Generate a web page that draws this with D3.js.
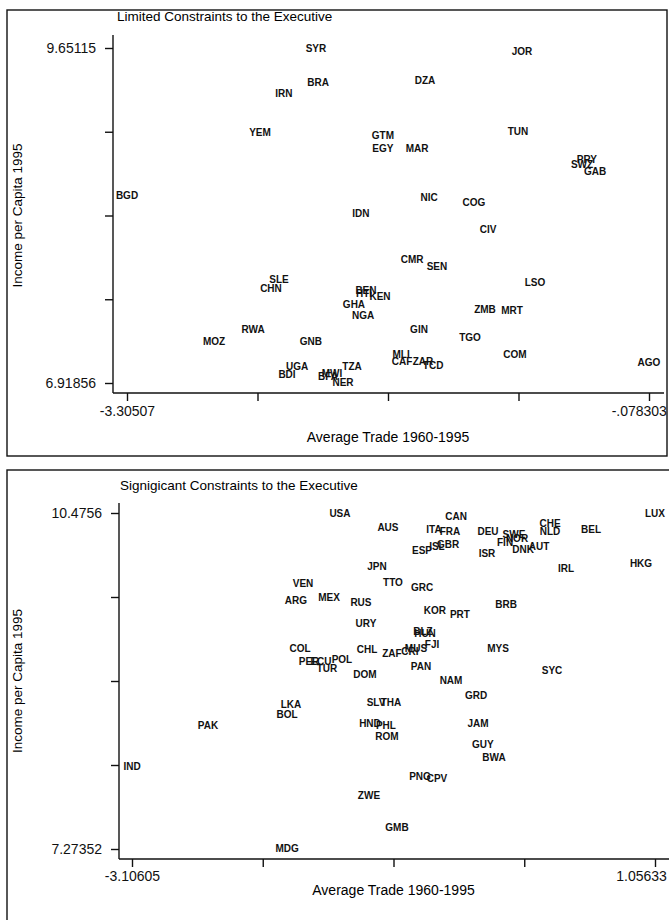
<!DOCTYPE html>
<html lang="en">
<head>
<meta charset="utf-8">
<title>Trade and Income by Constraints on the Executive</title>
<script src="https://cdnjs.cloudflare.com/ajax/libs/d3/7.8.5/d3.min.js"></script>
<style>
  body { margin: 0; background: #fff; }
  svg { display: block; font-family: "Liberation Sans", Arial, sans-serif; }
  .cty { font-size: 10px; font-weight: bold; }
  .tick-lab { font-size: 14px; }
  .ax-title { font-size: 14px; }
</style>
</head>
<body>
<svg id="chart" width="669" height="920"></svg>
<script>
// ---- panel 1: limited constraints ----
var limitedCodes = ["SYR","JOR","BRA","DZA","IRN","YEM","GTM","TUN","EGY","MAR","PRY","SWZ","GAB","BGD","NIC","COG","IDN","CIV","CMR","SEN","LSO","SLE","CHN","BEN","HTI","KEN","GHA","NGA","ZMB","MRT","RWA","GIN","MOZ","GNB","TGO","COM","AGO","UGA","TZA","MLI","CAF","ZAR","TCD","BDI","MWI","BFA","NER"];
var limitedTrade = [-2.137,-0.863,-2.124,-1.463,-2.335,-2.483,-1.723,-0.888,-1.723,-1.512,-0.462,-0.492,-0.412,-3.305,-1.438,-1.160,-1.859,-1.073,-1.543,-1.389,-0.783,-2.365,-2.415,-1.828,-1.840,-1.741,-1.902,-1.846,-1.092,-0.925,-2.526,-1.500,-2.767,-2.168,-1.185,-0.907,-0.0783,-2.254,-1.914,-1.611,-1.605,-1.475,-1.413,-2.316,-2.038,-2.063,-1.970];
var limitedIncome = [9.651,9.619,9.366,9.390,9.284,8.958,8.941,8.966,8.835,8.835,8.738,8.697,8.640,8.452,8.428,8.387,8.305,8.167,7.930,7.865,7.742,7.759,7.693,7.677,7.645,7.628,7.555,7.473,7.522,7.514,7.351,7.351,7.261,7.261,7.286,7.155,7.082,7.057,7.057,7.147,7.098,7.090,7.065,6.984,7.000,6.968,6.925];
var limitedXRange = [-3.30507, -0.078303];
var limitedYRange = [6.91856, 9.65115];
var limitedXLabels = ["-3.30507", "-.078303"];
var limitedYLabels = ["6.91856", "9.65115"];

// ---- panel 2: significant constraints ----
var signifCodes = ["LUX","USA","CAN","CHE","AUS","BEL","ITA","FRA","DEU","NLD","SWE","NOR","FIN","GBR","ISL","AUT","DNK","ESP","ISR","HKG","JPN","IRL","TTO","VEN","GRC","MEX","ARG","RUS","BRB","KOR","PRT","URY","BLZ","HUN","FJI","COL","CHL","MUS","MYS","CRI","ZAF","POL","ECU","PER","TUR","PAN","SYC","DOM","NAM","GRD","SLV","THA","LKA","BOL","PAK","HND","JAM","PHL","ROM","GUY","BWA","IND","PNG","CPV","ZWE","GMB","MDG"];
var signifTrade = [1.05633,-1.451,-0.527,0.221,-1.069,0.547,-0.703,-0.575,-0.273,0.221,-0.066,-0.042,-0.137,-0.591,-0.679,0.133,0.006,-0.798,-0.281,0.945,-1.156,0.348,-1.029,-1.745,-0.798,-1.538,-1.801,-1.284,-0.129,-0.695,-0.496,-1.244,-0.790,-0.774,-0.718,-1.769,-1.236,-0.846,-0.193,-0.894,-1.037,-1.435,-1.602,-1.697,-1.554,-0.806,0.237,-1.252,-0.567,-0.368,-1.164,-1.045,-1.841,-1.872,-2.501,-1.212,-0.352,-1.085,-1.077,-0.313,-0.225,-3.10605,-0.814,-0.679,-1.220,-0.997,-1.872];
var signifIncome = [10.4756,10.470,10.438,10.380,10.342,10.323,10.314,10.295,10.295,10.295,10.275,10.228,10.190,10.171,10.161,10.152,10.123,10.114,10.085,9.999,9.961,9.951,9.809,9.799,9.761,9.666,9.637,9.627,9.599,9.542,9.513,9.427,9.351,9.332,9.218,9.180,9.170,9.189,9.189,9.160,9.132,9.075,9.065,9.056,8.998,9.008,8.970,8.941,8.875,8.732,8.665,8.665,8.655,8.551,8.455,8.474,8.474,8.446,8.341,8.265,8.141,8.055,7.960,7.941,7.779,7.483,7.280];
var signifXRange = [-3.10605, 1.05633];
var signifYRange = [7.27352, 10.4756];
var signifXLabels = ["-3.10605", "1.05633"];
var signifYLabels = ["7.27352", "10.4756"];

var svg = d3.select("#chart");

function panel(p) {
  var g = svg.append("g");

  // outer frame
  g.append("rect")
    .attr("x", p.frame[0]).attr("y", p.frame[1])
    .attr("width", p.frame[2]).attr("height", p.frame[3])
    .style("fill", "none").style("stroke", "#111").style("stroke-width", 1.4);

  g.append("text")
    .attr("x", p.titleX).attr("y", p.titleY)
    .attr("class", "ax-title")
    .style("font-size", "13.5px")
    .text(p.title);

  var x = d3.scaleLinear().domain(p.xDomain).range(p.xRange);
  var y = d3.scaleLinear().domain(p.yDomain).range(p.yRange);

  // five evenly spaced ticks, only ends labelled
  var xt = d3.range(5).map(i => p.xDomain[0] + i * (p.xDomain[1] - p.xDomain[0]) / 4);
  var yt = d3.range(5).map(i => p.yDomain[0] + i * (p.yDomain[1] - p.yDomain[0]) / 4);

  var xAxis = d3.axisBottom(x).tickValues(xt).tickSize(8)
    .tickFormat((d, i) => i == 0 ? p.xLabels[0] : (i == 4 ? p.xLabels[1] : ""));
  var yAxis = d3.axisLeft(y).tickValues(yt).tickSize(8)
    .tickFormat((d, i) => i == 0 ? p.yLabels[0] : (i == 4 ? p.yLabels[1] : ""));

  var gx = g.append("g").attr("transform", "translate(0," + p.axisY + ")").call(xAxis);
  gx.select(".domain").attr("d", "M" + p.axisX + ",0H" + p.xEnd);
  gx.selectAll("text").attr("class", "tick-lab").attr("dy", 0).attr("y", p.xLabOff)
    .style("font-family", "Liberation Sans, Arial, sans-serif").style("font-size", "14px").style("fill", "#111");

  var gy = g.append("g").attr("transform", "translate(" + p.axisX + ",0)").call(yAxis);
  gy.select(".domain").attr("d", "M0," + p.yTop + "V" + p.axisY);
  gy.selectAll("text").attr("x", -17).attr("dy", "0.35em")
    .style("font-family", "Liberation Sans, Arial, sans-serif").style("font-size", "14px").style("fill", "#111");

  [gx, gy].forEach(a => {
    a.selectAll("line, path").style("stroke", "#111").style("stroke-width", 1.4);
  });

  // keep right-most tick label inside the page
  gx.selectAll("text").each(function() {
    var b = this.getBBox();
    var t = d3.select(this.parentNode).attr("transform");
    var tx = +t.match(/translate\(([-\d.]+)/)[1];
    if (tx + b.x + b.width > 667) d3.select(this).attr("x", 667 - tx - b.width / 2);
  });

  g.append("text")
    .attr("class", "ax-title")
    .attr("x", (p.xRange[0] + p.xRange[1]) / 2).attr("y", p.xTitleY)
    .attr("text-anchor", "middle")
    .text("Average Trade 1960-1995");

  g.append("text")
    .attr("class", "ax-title")
    .attr("transform", "translate(22," + ((p.yRange[0] + p.yRange[1]) / 2) + ") rotate(-90)")
    .attr("text-anchor", "middle")
    .style("font-size", "13.5px")
    .text("Income per Capita 1995");

  // country labels in place of markers
  g.selectAll("text.cty")
    .data(p.codes)
    .enter()
    .append("text")
    .attr("class", "cty")
    .attr("x", (d, i) => x(p.xs[i]))
    .attr("y", (d, i) => y(p.ys[i]))
    .attr("dy", "0.35em")
    .attr("text-anchor", "middle")
    .style("fill", "#111")
    .text(d => d);
}

panel({
  frame: [7, 10, 660, 446],
  title: "Limited Constraints to the Executive", titleX: 117, titleY: 21,
  xDomain: limitedXRange, yDomain: limitedYRange,
  xRange: [127, 649], yRange: [383, 48],
  axisX: 113, axisY: 393, xEnd: 664, yTop: 35,
  xLabOff: 23, xTitleY: 442,
  xLabels: limitedXLabels, yLabels: limitedYLabels,
  codes: limitedCodes, xs: limitedTrade, ys: limitedIncome
});

panel({
  frame: [7, 470, 680, 480],
  title: "Signigicant Constraints to the Executive", titleX: 120, titleY: 490,
  xDomain: signifXRange, yDomain: signifYRange,
  xRange: [132, 655], yRange: [849, 513],
  axisX: 119, axisY: 859, xEnd: 669, yTop: 503,
  xLabOff: 22, xTitleY: 895,
  xLabels: signifXLabels, yLabels: signifYLabels,
  codes: signifCodes, xs: signifTrade, ys: signifIncome
});
</script>
</body>
</html>
